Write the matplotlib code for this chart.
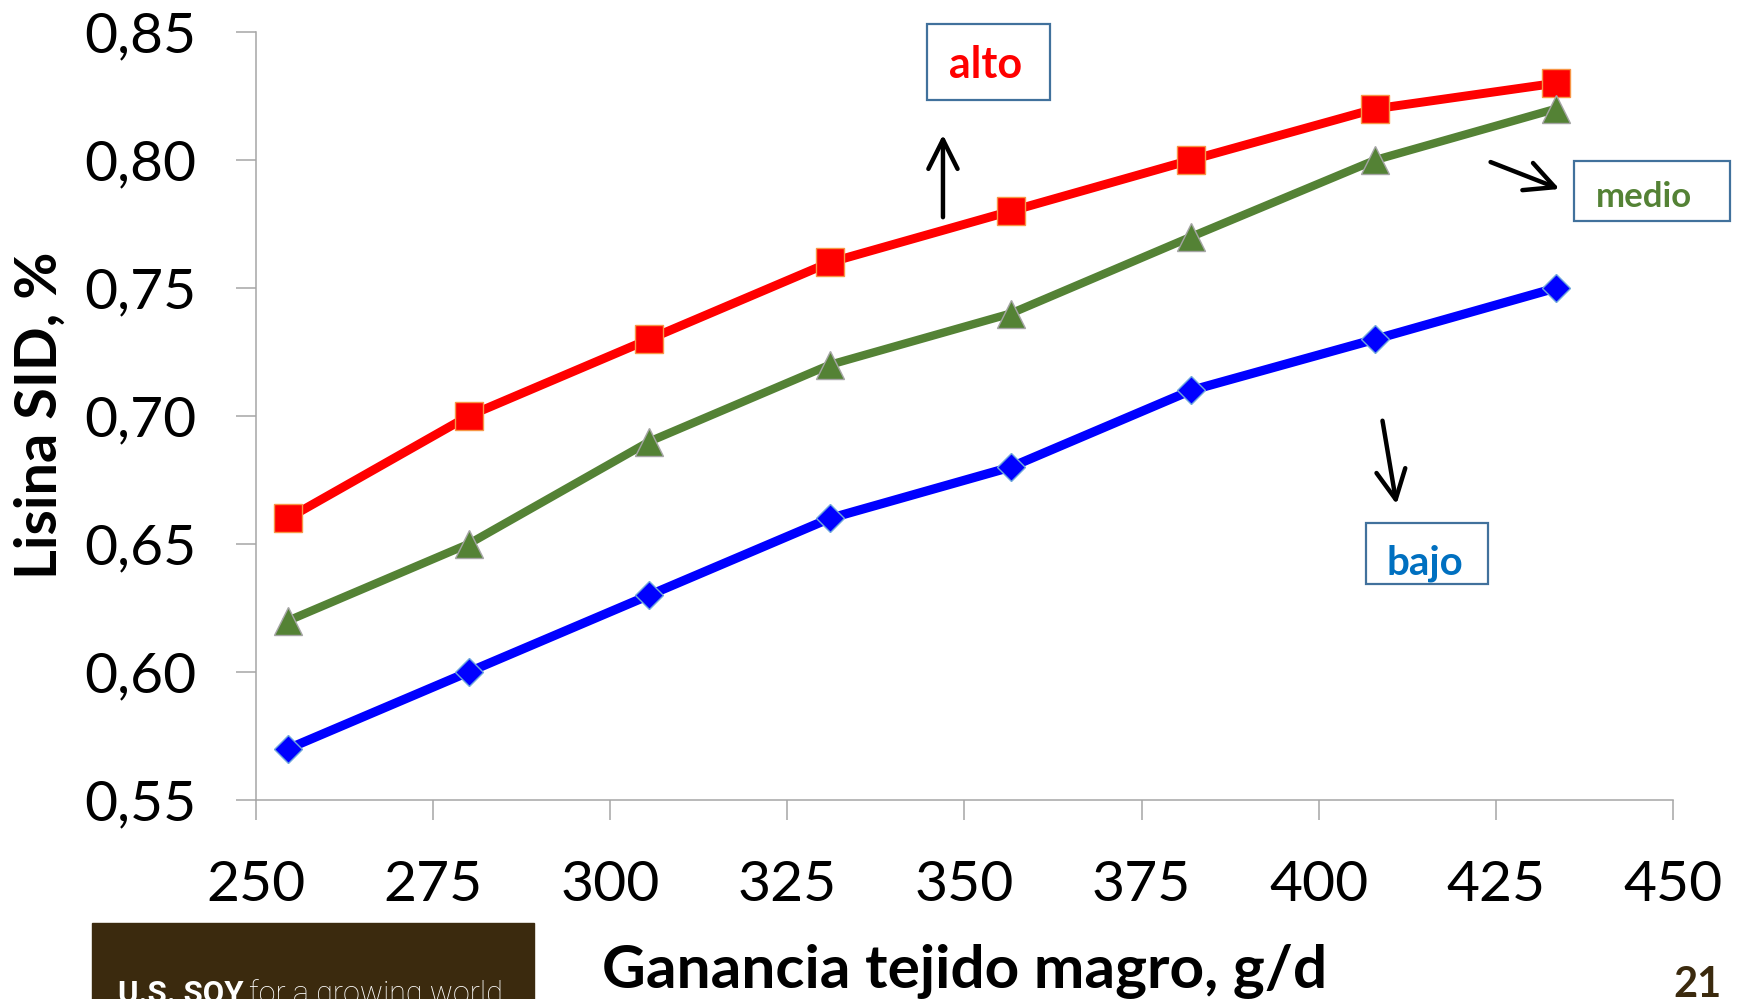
import matplotlib
matplotlib.use("Agg")
import matplotlib.pyplot as plt
from matplotlib.patches import Rectangle, FancyArrowPatch

plt.rcParams['font.family'] = ['Lato', 'DejaVu Sans']

# ganancia de tejido magro (g/d) y lisina SID (%) por nivel
ganancia = [254.5, 280, 305.5, 331, 356.5, 382, 408, 433.5]
alto = [0.66, 0.70, 0.73, 0.76, 0.78, 0.80, 0.82, 0.83]
medio = [0.62, 0.65, 0.69, 0.72, 0.74, 0.77, 0.80, 0.82]
bajo = [0.57, 0.60, 0.63, 0.66, 0.68, 0.71, 0.73, 0.75]

x_ticks = [250, 275, 300, 325, 350, 375, 400, 425, 450]
y_ticks = [0.55, 0.60, 0.65, 0.70, 0.75, 0.80, 0.85]
y_labels = ['0,55', '0,60', '0,65', '0,70', '0,75', '0,80', '0,85']

GRIS = '#a6a6a6'
MARRON = '#3b2a0e'

fig = plt.figure(figsize=(17.43, 9.99), dpi=100)
ax = fig.add_axes([0.1469, 0.1992, 0.8129, 0.7688])

ax.plot(ganancia, alto, color='#ff0000', lw=6.4, marker='s', ms=20.5,
        mfc='#ff0000', mec='#f79646', mew=1.0, zorder=3)
ax.plot(ganancia, medio, color='#548235', lw=6.0, marker='^', ms=20.5,
        mfc='#548235', mec='#a5a5a5', mew=1.0, zorder=4)
ax.plot(ganancia, bajo, color='#0000ff', lw=6.6, marker='D', ms=14,
        mfc='#0000ff', mec='#6fa8dc', mew=1.0, zorder=5)

ax.set_xlim(250, 450)
ax.set_ylim(0.55, 0.85)
ax.set_xticks(x_ticks)
ax.set_yticks(y_ticks)
ax.set_yticklabels(y_labels)

for side in ['top', 'right']:
    ax.spines[side].set_visible(False)
for side in ['left', 'bottom']:
    ax.spines[side].set_color(GRIS)
    ax.spines[side].set_linewidth(1.1)

ax.tick_params(axis='both', direction='out', length=14.4, width=1.1,
               color=GRIS, labelsize=41, pad=28.5)

ax.set_xlabel('Ganancia tejido magro, g/d', fontsize=43.5, fontweight='bold',
              va='baseline')
ax.xaxis.set_label_coords(0.5, -0.245)
ax.set_ylabel('Lisina SID, %', fontsize=41.5, fontweight='bold', va='center')
ax.yaxis.set_label_coords(-0.1522, 0.501)

# cajas de etiqueta para cada nivel
cajas = [
    ('alto', '#ff0000', 31, (0.5318, 0.8999, 0.0706, 0.0761), (0.5657, 0.9219)),
    ('medio', '#548235', 25, (0.9030, 0.7788, 0.0895, 0.0601), (0.9432, 0.7928)),
    ('bajo', '#0070c0', 29, (0.7837, 0.4154, 0.0700, 0.0611), (0.8176, 0.4254)),
]
for texto, color, size, (x0, y0, w, h), (tx, ty) in cajas:
    fig.patches.append(Rectangle((x0, y0), w, h, transform=fig.transFigure,
                                 fill=False, ec='#41719c', lw=1.6))
    fig.text(tx, ty, texto, color=color, fontsize=size, fontweight='bold',
             ha='center', va='baseline')

flechas = [
    ((0.5410, 0.7798), (0.5410, 0.8679)),
    ((0.8537, 0.8388), (0.8962, 0.8098)),
    ((0.7929, 0.5816), (0.8015, 0.4925)),
]
for inicio, fin in flechas:
    fig.patches.append(FancyArrowPatch(inicio, fin, transform=fig.transFigure,
                                       arrowstyle='->,head_length=0.7,head_width=0.35',
                                       mutation_scale=30, lw=3.2, color='black'))

# pie de diapositiva
fig.patches.append(Rectangle((0.0528, 0.0), 0.2536, 0.0761,
                             transform=fig.transFigure, color=MARRON))
fig.text(0.0677, -0.004, 'U.S. SOY', color='white', fontsize=22.5,
         fontweight='bold', family=['Roboto', 'DejaVu Sans'], va='baseline')
fig.text(0.1429, -0.004, 'for a growing world', color='white', fontsize=22,
         fontweight='light', family=['Roboto', 'DejaVu Sans'], va='baseline')
fig.text(0.9598, 0.002, '21', color=MARRON, fontsize=30, fontweight='bold',
         ha='left', va='baseline')

fig.savefig('out.png', dpi=100)
